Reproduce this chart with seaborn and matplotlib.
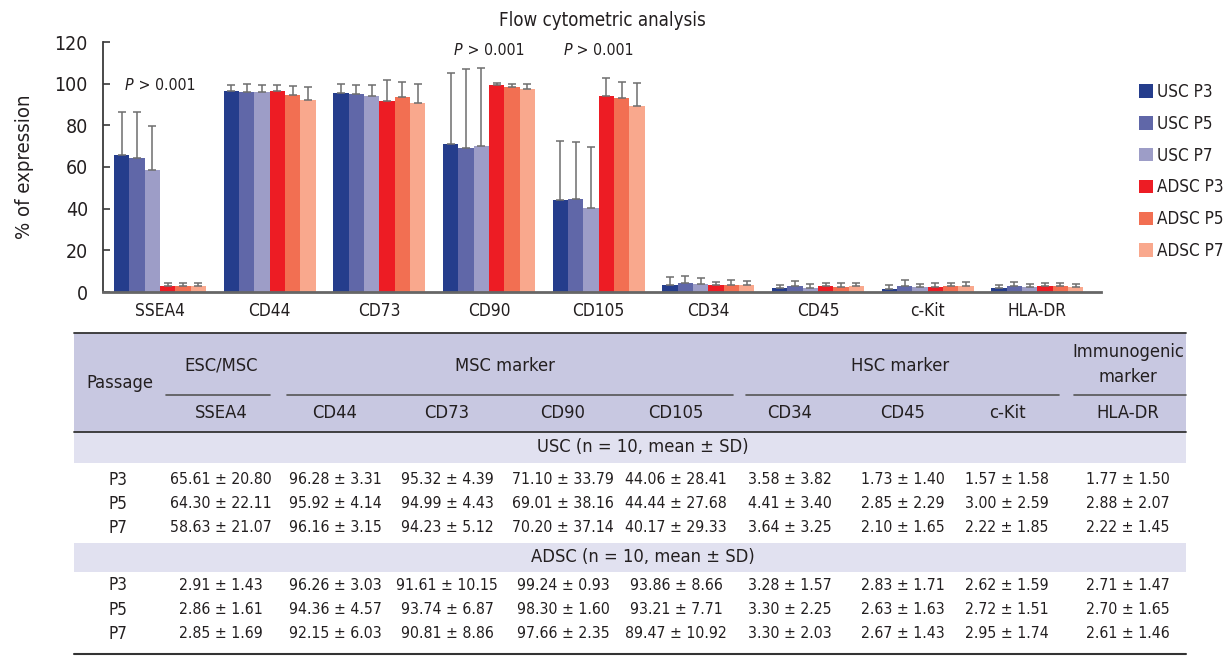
import numpy as np
import pandas as pd
import matplotlib
matplotlib.use("Agg")
import matplotlib.pyplot as plt
import seaborn as sns
from matplotlib import font_manager
from matplotlib.font_manager import FontProperties
from matplotlib.textpath import TextPath
from matplotlib.patches import Rectangle
from matplotlib.offsetbox import TextArea, HPacker, AnnotationBbox

# ---------------- data ----------------
markers = ["SSEA4", "CD44", "CD73", "CD90", "CD105", "CD34", "CD45", "c-Kit", "HLA-DR"]
groups = ["USC P3", "USC P5", "USC P7", "ADSC P3", "ADSC P5", "ADSC P7"]

usc_p3_mean = [65.61, 96.28, 95.32, 71.10, 44.06, 3.58, 1.73, 1.57, 1.77]
usc_p3_sd = [20.80, 3.31, 4.39, 33.79, 28.41, 3.82, 1.40, 1.58, 1.50]
usc_p5_mean = [64.30, 95.92, 94.99, 69.01, 44.44, 4.41, 2.85, 3.00, 2.88]
usc_p5_sd = [22.11, 4.14, 4.43, 38.16, 27.68, 3.40, 2.29, 2.59, 2.07]
usc_p7_mean = [58.63, 96.16, 94.23, 70.20, 40.17, 3.64, 2.10, 2.22, 2.22]
usc_p7_sd = [21.07, 3.15, 5.12, 37.14, 29.33, 3.25, 1.65, 1.85, 1.45]
adsc_p3_mean = [2.91, 96.26, 91.61, 99.24, 93.86, 3.28, 2.83, 2.62, 2.71]
adsc_p3_sd = [1.43, 3.03, 10.15, 0.93, 8.66, 1.57, 1.71, 1.59, 1.47]
adsc_p5_mean = [2.86, 94.36, 93.74, 98.30, 93.21, 3.30, 2.63, 2.72, 2.70]
adsc_p5_sd = [1.61, 4.57, 6.87, 1.60, 7.71, 2.25, 1.63, 1.51, 1.65]
adsc_p7_mean = [2.85, 92.15, 90.81, 97.66, 89.47, 3.30, 2.67, 2.95, 2.61]
adsc_p7_sd = [1.69, 6.03, 8.86, 2.35, 10.92, 2.03, 1.43, 1.74, 1.46]

p_markers = ["SSEA4", "CD90", "CD105"]
p_y = [99, 116, 116]
p_italic = "P"
p_rest = " > 0.001"

yticks = [0, 20, 40, 60, 80, 100, 120]
title = "Flow cytometric analysis"
ylabel = "% of expression"

passages = ["P3", "P5", "P7"]
cell_types = ["USC", "ADSC"]
band_labels = ["USC (n = 10, mean \u00b1 SD)", "ADSC (n = 10, mean \u00b1 SD)"]
header_groups = [("ESC/MSC", ["SSEA4"]),
                 ("MSC marker", ["CD44", "CD73", "CD90", "CD105"]),
                 ("HSC marker", ["CD34", "CD45", "c-Kit"]),
                 ("Immunogenic\nmarker", ["HLA-DR"])]
passage_header = "Passage"

colors = ["#253D8C", "#6067A8", "#9D9DC7", "#ED1C24", "#F26F52", "#F9A88D"]

means = dict(zip(groups, [usc_p3_mean, usc_p5_mean, usc_p7_mean,
                          adsc_p3_mean, adsc_p5_mean, adsc_p7_mean]))
sds = dict(zip(groups, [usc_p3_sd, usc_p5_sd, usc_p7_sd,
                        adsc_p3_sd, adsc_p5_sd, adsc_p7_sd]))

rows = []
for g in groups:
    for m, v, s in zip(markers, means[g], sds[g]):
        rows.append((m, g, v, s))
df = pd.DataFrame(rows, columns=["marker", "group", "mean", "sd"])

# ---------------- fonts ----------------
sns.set_theme(style="white")
entries = font_manager.fontManager.ttflist
names = {f.name for f in entries}
FAMILY, STRETCH = "DejaVu Sans", "normal"
if any(f.name == "DejaVu Sans" and str(f.stretch) == "condensed" for f in entries):
    FAMILY, STRETCH = "DejaVu Sans", "condensed"
else:
    for cand in ["Liberation Sans Narrow", "Roboto Condensed", "Open Sans Condensed"]:
        if cand in names:
            FAMILY = cand
            break
plt.rcParams["font.family"] = [FAMILY, "DejaVu Sans"]
plt.rcParams["font.stretch"] = STRETCH
TXT = "#231F20"
plt.rcParams["text.color"] = TXT


def fit(s, target_px, style="normal", lo=8, hi=17):
    fp = FontProperties(family=FAMILY, stretch=STRETCH, style=style)
    w = TextPath((0, 0), s, size=100, prop=fp).get_extents().width
    size = target_px * 72.0 / w
    return float(np.clip(size, lo, hi))


FS_TABLE = fit("65.61 \u00b1 20.80", 100)
FS_HDR = fit("MSC marker", 98)
FS_TICK = fit("120", 30.5)
FS_CAT = fit("SSEA4", 48)
FS_LEG = min(fit("USC P3", 60), fit("ADSC P3", 65))
FS_TITLE = fit(title, 205)
FS_YLAB = fit(ylabel, 142)
FS_P = fit("P > 0.001", 68)

W, H = 1226, 658
fig = plt.figure(figsize=(W / 100, H / 100), dpi=100)


def fx(px):
    return px / W


def fy(py):
    return 1 - py / H


# ---------------- bar chart ----------------
ax_l, ax_r, ax_t, ax_b = 103, 1101, 42, 292
ax = fig.add_axes([fx(ax_l), fy(ax_b), fx(ax_r - ax_l), (ax_b - ax_t) / H])
sns.barplot(data=df, x="marker", y="mean", hue="group", order=markers,
            hue_order=groups, palette=colors, width=0.84, errorbar=None,
            linewidth=0, saturation=1, legend=False, ax=ax)

for cont, g in zip(ax.containers, groups):
    xs = [b.get_x() + b.get_width() / 2 for b in cont]
    hs = [b.get_height() for b in cont]
    sd = np.array(sds[g])
    ax.errorbar(xs, hs, yerr=[np.zeros_like(sd), sd], fmt="none",
                ecolor="#6E6E6E", elinewidth=1.1, capsize=2.8, capthick=1.1)

ax.set_xlim(-0.52, 8.58)
ax.set_ylim(0, 120)
ax.set_yticks(yticks)
ax.set_xlabel("")
ax.set_ylabel("")
for s in ["top", "right"]:
    ax.spines[s].set_visible(False)
ax.spines["left"].set_color("#3A3A3A")
ax.spines["left"].set_linewidth(1.3)
ax.spines["bottom"].set_color("#666666")
ax.spines["bottom"].set_linewidth(2.0)
ax.tick_params(axis="y", direction="in", length=5, width=1.2, color="#3A3A3A",
               pad=10.8, labelsize=FS_TICK, labelcolor=TXT, left=True)
ax.tick_params(axis="x", length=0, pad=7, labelsize=FS_CAT, labelcolor=TXT)

for m, yv in zip(p_markers, p_y):
    hp = HPacker(children=[
        TextArea(p_italic, textprops=dict(fontsize=FS_P, fontstyle="italic", color=TXT)),
        TextArea(p_rest, textprops=dict(fontsize=FS_P, color=TXT))],
        align="baseline", pad=0, sep=0)
    ab = AnnotationBbox(hp, (markers.index(m), yv), xycoords="data",
                        frameon=False, box_alignment=(0.5, 0.5), pad=0)
    ax.add_artist(ab)

fig.text(fx(602), fy(20), title, ha="center", va="center", fontsize=FS_TITLE)
fig.text(fx(25), fy(167), ylabel, rotation=90, ha="center", va="center",
         fontsize=FS_YLAB)

handles = [Rectangle((0, 0), 1, 1, facecolor=c, edgecolor="none") for c in colors]
leg_px = FS_LEG * 100 / 72
hl = 14 / leg_px
row_h = 1.12 * leg_px - 0.8
ax.legend(handles, groups, loc="upper left", bbox_to_anchor=(fx(1139), fy(83)),
          bbox_transform=fig.transFigure, frameon=False, fontsize=FS_LEG,
          handlelength=hl, handleheight=hl, handletextpad=0.22,
          labelspacing=(32 - row_h) / leg_px, borderpad=0, borderaxespad=0)

# ---------------- table ----------------
tax = fig.add_axes([0, 0, 1, 1], zorder=-1)
tax.set_xlim(0, W)
tax.set_ylim(H, 0)
tax.axis("off")

TL, TR = 74, 1186
top, hdr_bot = 333, 432
col_x = {"Passage": 118, "SSEA4": 221, "CD44": 335, "CD73": 447, "CD90": 563,
         "CD105": 676, "CD34": 790, "CD45": 903, "c-Kit": 1007, "HLA-DR": 1128}
span_px = [(166, 270), (287, 733), (746, 1059), (1074, 1186)]
band_y = [(432, 463), (543, 572)]
row_y = [[480, 504, 528], [585, 610, 634]]
bottom = 654

tax.add_patch(Rectangle((TL, top), TR - TL, hdr_bot - top, facecolor="#C8C8E1",
                        edgecolor="none"))
for (y0, y1) in band_y:
    tax.add_patch(Rectangle((TL, y0), TR - TL, y1 - y0, facecolor="#E1E1F0",
                            edgecolor="none"))
tax.plot([TL, TR], [top, top], color="#333333", lw=1.3)
tax.plot([TL, TR], [hdr_bot, hdr_bot], color="#333333", lw=1.3)
tax.plot([TL, TR], [bottom, bottom], color="#333333", lw=1.5)

tax.text(120, 383, passage_header, ha="center", va="center", fontsize=FS_HDR)
for (label, cols), (x0, x1) in zip(header_groups, span_px):
    cx = np.mean([col_x[c] for c in cols])
    lines = label.split("\n")
    if len(lines) == 1:
        tax.text(cx, 366, lines[0], ha="center", va="center", fontsize=FS_HDR)
    else:
        for ln, yy in zip(lines, [352, 377]):
            tax.text(cx, yy, ln, ha="center", va="center", fontsize=FS_HDR)
    tax.plot([x0, x1], [395, 395], color="#555555", lw=1.2)
    for c in cols:
        tax.text(col_x[c], 413, c, ha="center", va="center", fontsize=FS_HDR)

for ct, (y0, y1), blabel, ys in zip(cell_types, band_y, band_labels, row_y):
    tax.text(643, (y0 + y1) / 2, blabel, ha="center", va="center", fontsize=FS_HDR)
    for p, yy in zip(passages, ys):
        g = f"{ct} {p}"
        tax.text(col_x["Passage"], yy, p, ha="center", va="center",
                 fontsize=(FS_TABLE + FS_HDR) / 2)
        for m, v, s in zip(markers, means[g], sds[g]):
            tax.text(col_x[m], yy, f"{v:.2f} \u00b1 {s:.2f}", ha="center",
                     va="center", fontsize=FS_TABLE)

fig.savefig("out.png", dpi=100)
